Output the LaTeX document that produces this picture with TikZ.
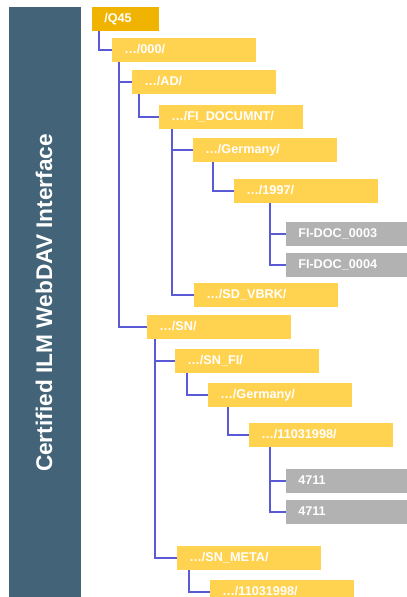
\documentclass[tikz,border=0pt]{standalone}
\usepackage{fontspec}
\setmainfont{Liberation Sans}
\usetikzlibrary{calc}
\definecolor{BarSlate}{RGB}{67,100,120}
\definecolor{DeepGold}{RGB}{240,180,0}
\definecolor{FolderGold}{RGB}{255,210,80}
\definecolor{FileGrey}{RGB}{178,178,178}
\definecolor{LinkBlue}{RGB}{90,90,215}

\begin{document}
\begin{tikzpicture}[x=0.75pt, y=-0.75pt,
        box/.style={anchor=north west, inner xsep=9pt, inner ysep=0pt, minimum height=17.6pt,
            text height=7pt, text depth=2pt, align=left, text=white,
            font=\bfseries\fontsize{9.5}{11}\selectfont},
        root/.style={box, fill=DeepGold, text width=32.25pt},
        folder/.style={box, fill=FolderGold, text width=89.6pt},
        file/.style={box, fill=FileGrey, text width=72.75pt},
        link/.style={LinkBlue, line width=0.9pt}]
        \useasboundingbox (0,0) rectangle (407,597);

        % Side bar with title
        \fill[BarSlate] (9,7) rectangle (81,597);
        \node[rotate=90, inner sep=0pt, text=white, font=\bfseries\fontsize{17}{20}\selectfont]
            (title) at (44,303) {Certified ILM WebDAV Interface};

        % Folder tree
        \node[root]   (q45)    at (92,7)    {/Q45};
        \node[folder] (d000)   at (112,38)  {…/000/};
        \node[folder] (ad)     at (132,70)  {…/AD/};
        \node[folder] (fidoc)  at (159,105) {…/FI\_DOCUMNT/};
        \node[folder] (ger)    at (193,138) {…/Germany/};
        \node[folder] (y1997)  at (234,179) {…/1997/};
        \node[file]   (doc3)   at (286,222) {FI-DOC\_0003};
        \node[file]   (doc4)   at (286,253) {FI-DOC\_0004};
        \node[folder] (sdvbrk) at (194,283) {…/SD\_VBRK/};
        \node[folder] (sn)     at (147,315) {…/SN/};
        \node[folder] (snfi)   at (175,349) {…/SN\_FI/};
        \node[folder] (ger2)   at (208,383) {…/Germany/};
        \node[folder] (d1103)  at (249,423) {…/11031998/};
        \node[file]   (n4711a) at (286,469) {4711};
        \node[file]   (n4711b) at (286,500) {4711};
        \node[folder] (snmeta) at (177,546) {…/SN\_META/};
        \node[folder] (d1103b) at (210,580) {…/11031998/};

        % Branch lines
        \foreach \from/\dx/\to in {q45/7/d000, d000/7/ad, d000/7/sn, ad/7/fidoc,
                fidoc/13/ger, fidoc/13/sdvbrk, ger/20/y1997, y1997/36/doc3, y1997/36/doc4,
                sn/8/snfi, sn/8/snmeta, snfi/12/ger2, ger2/20/d1103,
                d1103/21/n4711a, d1103/21/n4711b, snmeta/12/d1103b} {
            \draw[link] ($(\from.south west)+(\dx,0)$) |- (\to.west);
        }
    \end{tikzpicture}
\end{document}
